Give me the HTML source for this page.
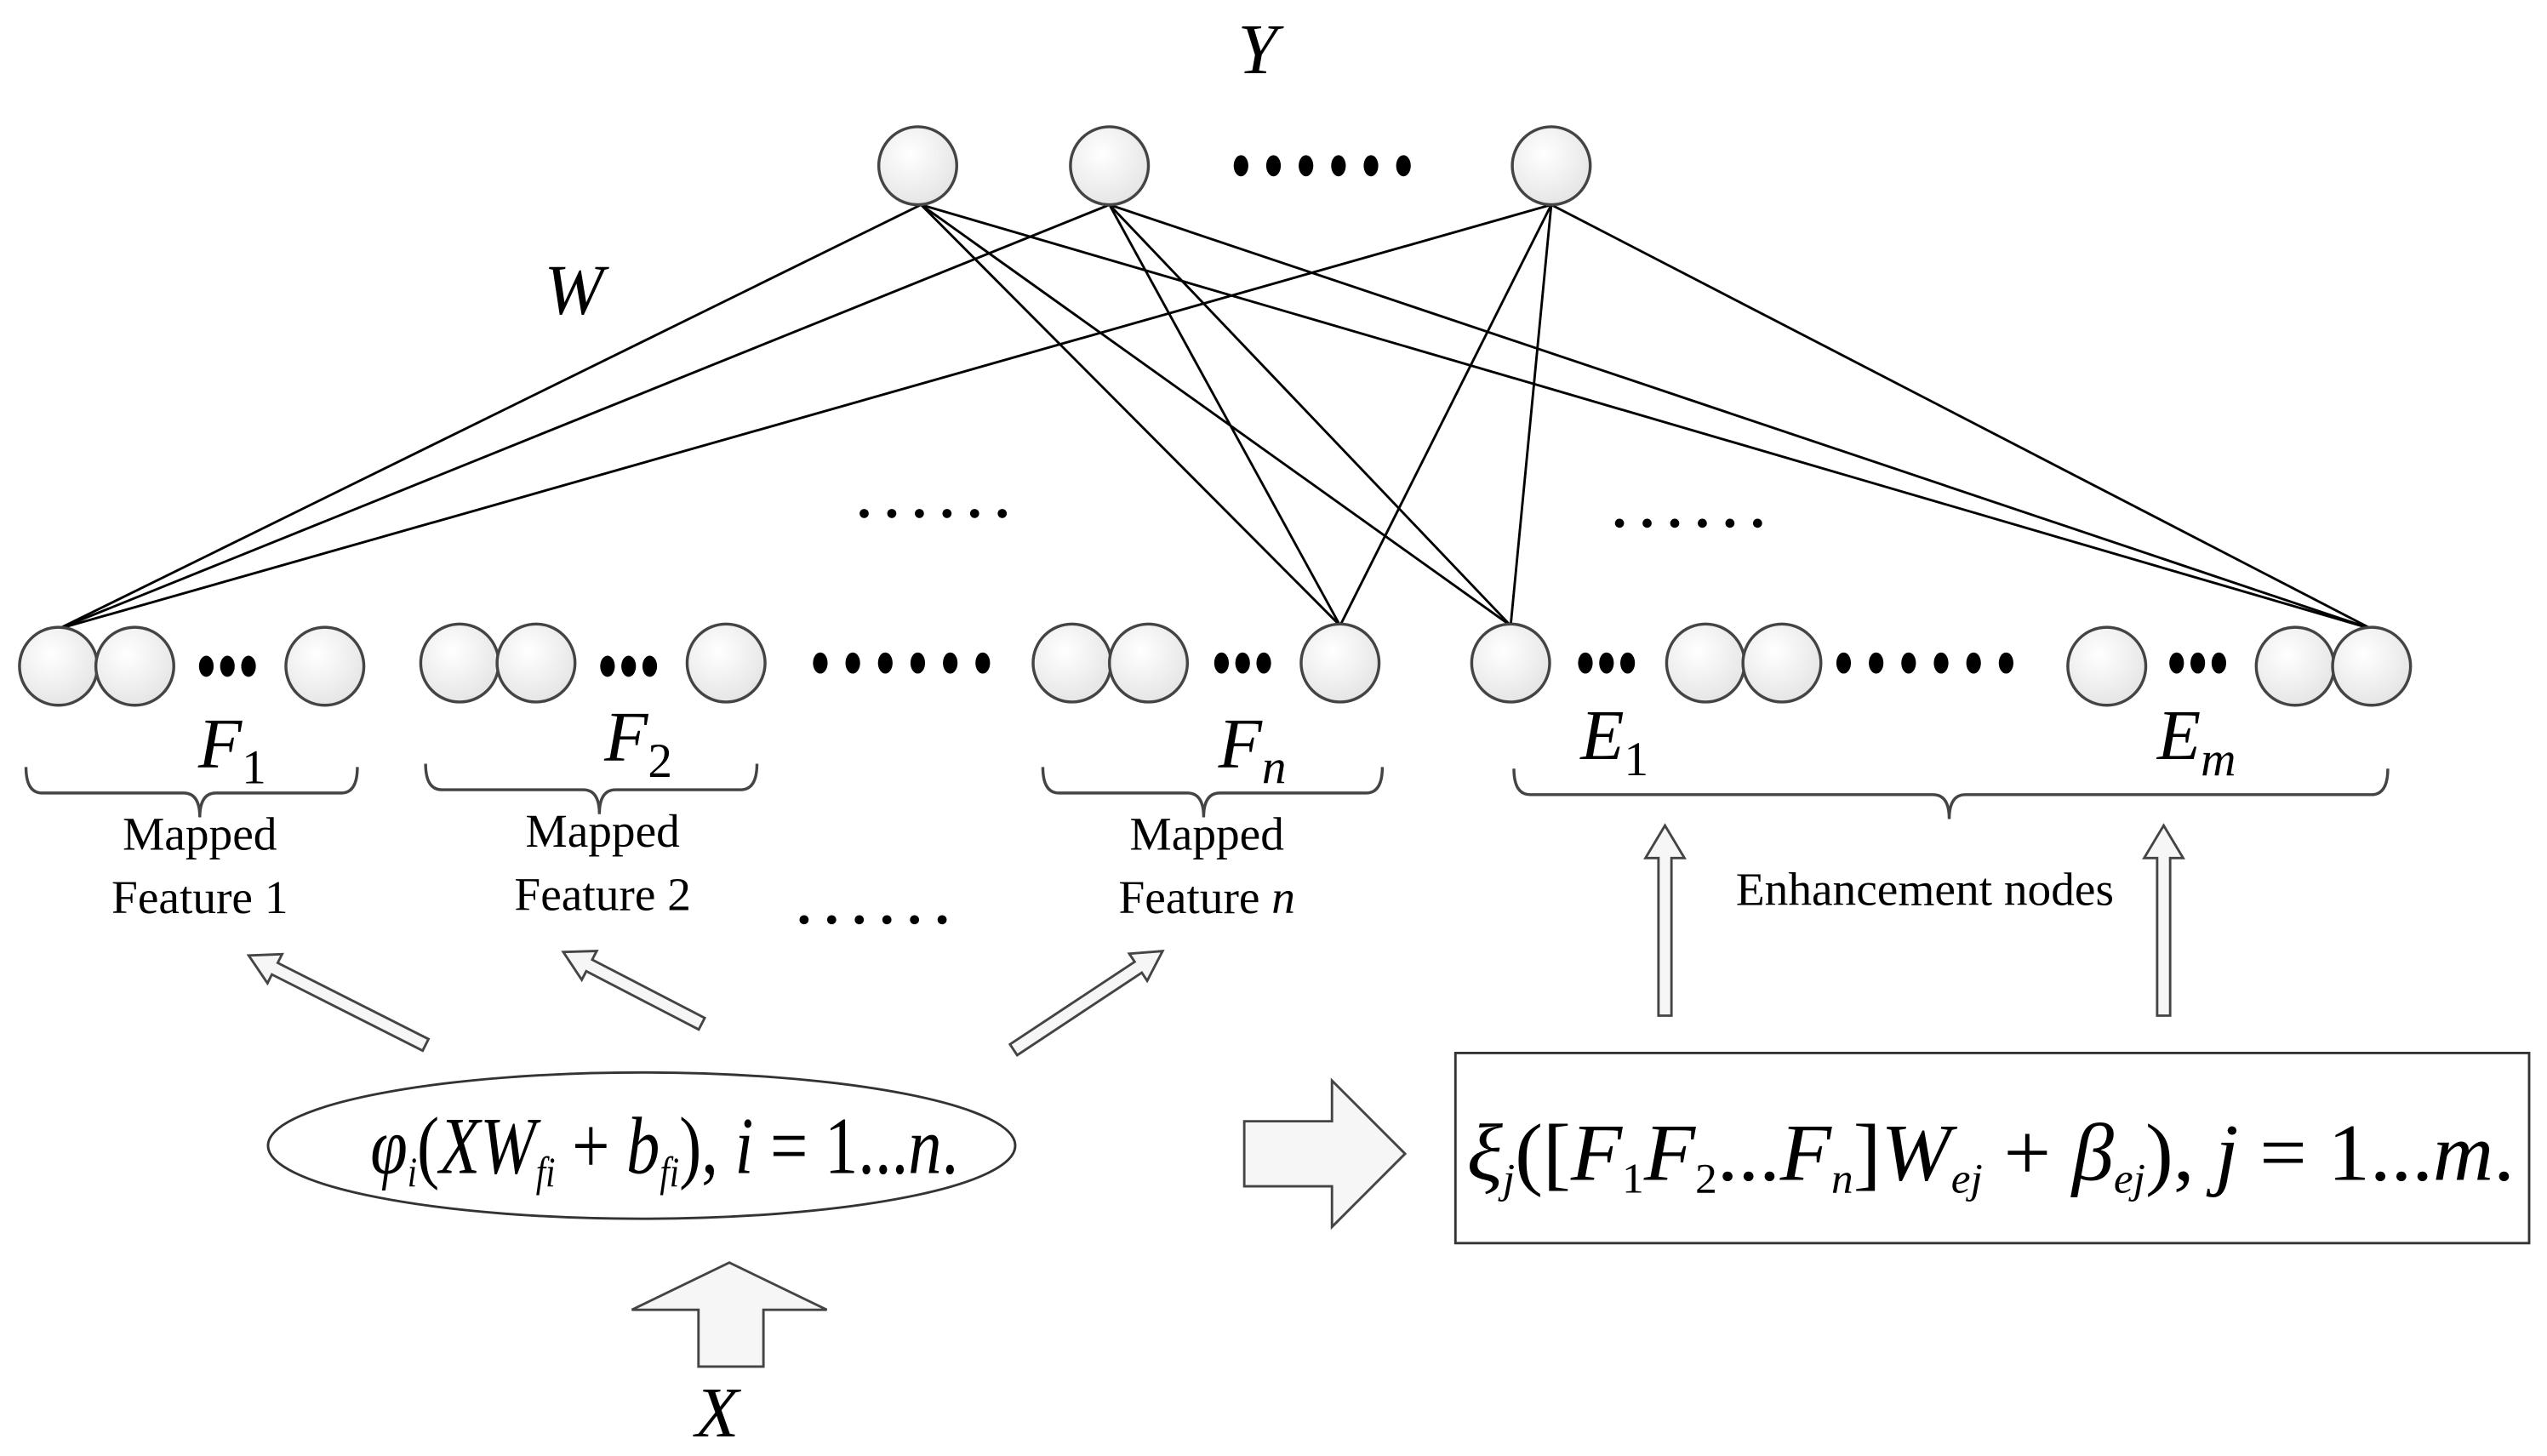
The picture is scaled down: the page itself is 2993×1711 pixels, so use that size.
<!DOCTYPE html>
<html><head><meta charset="utf-8"><style>html,body{margin:0;padding:0;background:#fff}svg{display:block}</style></head><body>
<svg width="2993" height="1711" viewBox="0 0 1568 896" preserveAspectRatio="none" xmlns="http://www.w3.org/2000/svg" font-family="Liberation Serif, serif">
<defs>
<radialGradient id="g" cx="0.4" cy="0.35" r="0.7"><stop offset="0" stop-color="#fff"/><stop offset="1" stop-color="#e4e4e4"/></radialGradient>
<g id="d3"><ellipse cx="0" cy="0" rx="4.5" ry="6.5"/><ellipse cx="13" cy="0" rx="4.5" ry="6.5"/><ellipse cx="26" cy="0" rx="4.5" ry="6.5"/></g>
<g id="d6"><ellipse cx="0" cy="0" rx="4.5" ry="6.5"/><ellipse cx="20" cy="0" rx="4.5" ry="6.5"/><ellipse cx="40" cy="0" rx="4.5" ry="6.5"/><ellipse cx="60" cy="0" rx="4.5" ry="6.5"/><ellipse cx="80" cy="0" rx="4.5" ry="6.5"/><ellipse cx="100" cy="0" rx="4.5" ry="6.5"/></g>
<g id="s6"><circle cx="0" cy="0" r="2.8"/><circle cx="17" cy="0" r="2.8"/><circle cx="34" cy="0" r="2.8"/><circle cx="51" cy="0" r="2.8"/><circle cx="68" cy="0" r="2.8"/><circle cx="85" cy="0" r="2.8"/></g>
</defs>
<g stroke="#000" stroke-width="1.5">
<line x1="567" y1="126" x2="36" y2="387"/><line x1="567" y1="126" x2="825" y2="385"/><line x1="567" y1="126" x2="930" y2="385"/><line x1="567" y1="126" x2="1460" y2="387"/>
<line x1="683" y1="126" x2="36" y2="387"/><line x1="683" y1="126" x2="825" y2="385"/><line x1="683" y1="126" x2="930" y2="385"/><line x1="683" y1="126" x2="1460" y2="387"/>
<line x1="955" y1="126" x2="36" y2="387"/><line x1="955" y1="126" x2="825" y2="385"/><line x1="955" y1="126" x2="930" y2="385"/><line x1="955" y1="126" x2="1460" y2="387"/>
</g>
<g fill="url(#g)" stroke="#444" stroke-width="1.8">
<circle cx="565" cy="102" r="24"/><circle cx="683" cy="102" r="24"/><circle cx="955" cy="102" r="24"/>
<circle cx="36" cy="410" r="24"/><circle cx="83" cy="410" r="24"/><circle cx="200" cy="410" r="24"/>
<circle cx="283" cy="408" r="24"/><circle cx="330" cy="408" r="24"/><circle cx="447" cy="408" r="24"/>
<circle cx="660" cy="408" r="24"/><circle cx="707" cy="408" r="24"/><circle cx="825" cy="408" r="24"/>
<circle cx="930" cy="408" r="24"/><circle cx="1050" cy="408" r="24"/><circle cx="1097" cy="408" r="24"/>
<circle cx="1297" cy="410" r="24"/><circle cx="1413" cy="410" r="24"/><circle cx="1460" cy="410" r="24"/>
</g>
<g fill="#000">
<use href="#d3" x="127" y="410"/><use href="#d3" x="374" y="410"/><use href="#d3" x="752" y="408"/><use href="#d3" x="976" y="408"/><use href="#d3" x="1340" y="408"/>
<use href="#d6" x="505" y="408"/><use href="#d6" x="1135" y="408"/><use href="#d6" x="764" y="102"/>
<use href="#s6" x="532" y="316"/><use href="#s6" x="997" y="322"/><use href="#s6" x="495" y="566"/>
</g>
<g font-style="italic" font-size="44"><text x="762" y="45">Y</text><text x="335" y="193">W</text>
<text x="122" y="472">F<tspan font-size="30" font-style="normal" dy="10">1</tspan></text>
<text x="372" y="468">F<tspan font-size="30" font-style="normal" dy="10">2</tspan></text>
<text x="750" y="472">F<tspan font-size="30" dy="10">n</tspan></text>
<text x="973" y="467">E<tspan font-size="30" font-style="normal" dy="10">1</tspan></text>
<text x="1328" y="467">E<tspan font-size="30" dy="10">m</tspan></text>
<text x="428" y="884">X</text></g>
<g fill="none" stroke="#444" stroke-width="1.8">
<path d="M16 472 q0 16 10 16 h87 q10 0 10 15 q0 -15 10 -15 h77 q10 0 10 -16"/>
<path d="M262 470 q0 16 10 16 h87 q10 0 10 15 q0 -15 10 -15 h77 q10 0 10 -16"/>
<path d="M642 472 q0 16 10 16 h79 q10 0 10 15 q0 -15 10 -15 h90 q10 0 10 -16"/>
<path d="M932 473 q0 16 10 16 h248 q10 0 10 15 q0 -15 10 -15 h250 q10 0 10 -16"/>
</g>
<g font-size="29" text-anchor="middle"><text x="123" y="523">Mapped</text><text x="123" y="562">Feature 1</text>
<text x="371" y="521">Mapped</text><text x="371" y="560">Feature 2</text>
<text x="743" y="523">Mapped</text><text x="743" y="562">Feature <tspan font-style="italic">n</tspan></text>
<text x="1185" y="557">Enhancement nodes</text></g>
<g fill="#f6f6f6" stroke="#444" stroke-width="1.5">
<path d="M0 -4 H104 V-10 L122 0 L104 10 V4 H0 Z" transform="translate(262,643) rotate(206.8)"/>
<path d="M0 -4 H78 V-10 L96 0 L78 10 V4 H0 Z" transform="translate(432,630) rotate(207.4)"/>
<path d="M0 -4 H92 V-10 L110 0 L92 10 V4 H0 Z" transform="translate(624,646) rotate(-33.5)"/>
<path d="M1021 625 V528 H1013 L1025 508 L1037 528 H1029 V625 Z"/>
<path d="M1328 625 V528 H1320 L1332 508 L1344 528 H1336 V625 Z"/>
<path d="M766 690 H820 V665 L865 710 L820 755 V730 H766 Z"/>
<path d="M430 841 V806 H389 L449 777 L509 806 H470 V841 Z"/>
</g>
<ellipse cx="395" cy="705" rx="230" ry="45" fill="#fff" stroke="#333" stroke-width="1.5"/>
<rect x="896" y="648" width="661" height="117" fill="#fff" stroke="#333" stroke-width="1.5"/>
<g font-size="50"><text x="228" y="722" textLength="362" lengthAdjust="spacingAndGlyphs"><tspan font-style="italic">φ</tspan><tspan font-size="26" font-style="italic" dy="8">i</tspan><tspan dy="-8">(</tspan><tspan font-style="italic">XW</tspan><tspan font-size="26" font-style="italic" dy="8">fi</tspan><tspan dy="-8"> + </tspan><tspan font-style="italic">b</tspan><tspan font-size="26" font-style="italic" dy="8">fi</tspan><tspan dy="-8">), </tspan><tspan font-style="italic">i</tspan> = 1...<tspan font-style="italic">n</tspan>.</text>
<text x="903" y="726" textLength="645" lengthAdjust="spacingAndGlyphs"><tspan font-style="italic">ξ</tspan><tspan font-size="26" font-style="italic" dy="8">j</tspan><tspan dy="-8">([</tspan><tspan font-style="italic">F</tspan><tspan font-size="26" dy="8">1</tspan><tspan font-style="italic" dy="-8">F</tspan><tspan font-size="26" dy="8">2</tspan><tspan dy="-8">...</tspan><tspan font-style="italic">F</tspan><tspan font-size="26" font-style="italic" dy="8">n</tspan><tspan dy="-8">]</tspan><tspan font-style="italic">W</tspan><tspan font-size="26" font-style="italic" dy="8">ej</tspan><tspan dy="-8"> + </tspan><tspan font-style="italic">β</tspan><tspan font-size="26" font-style="italic" dy="8">ej</tspan><tspan dy="-8">), </tspan><tspan font-style="italic">j</tspan> = 1...<tspan font-style="italic">m</tspan>.</text></g>
</svg>
</body></html>
